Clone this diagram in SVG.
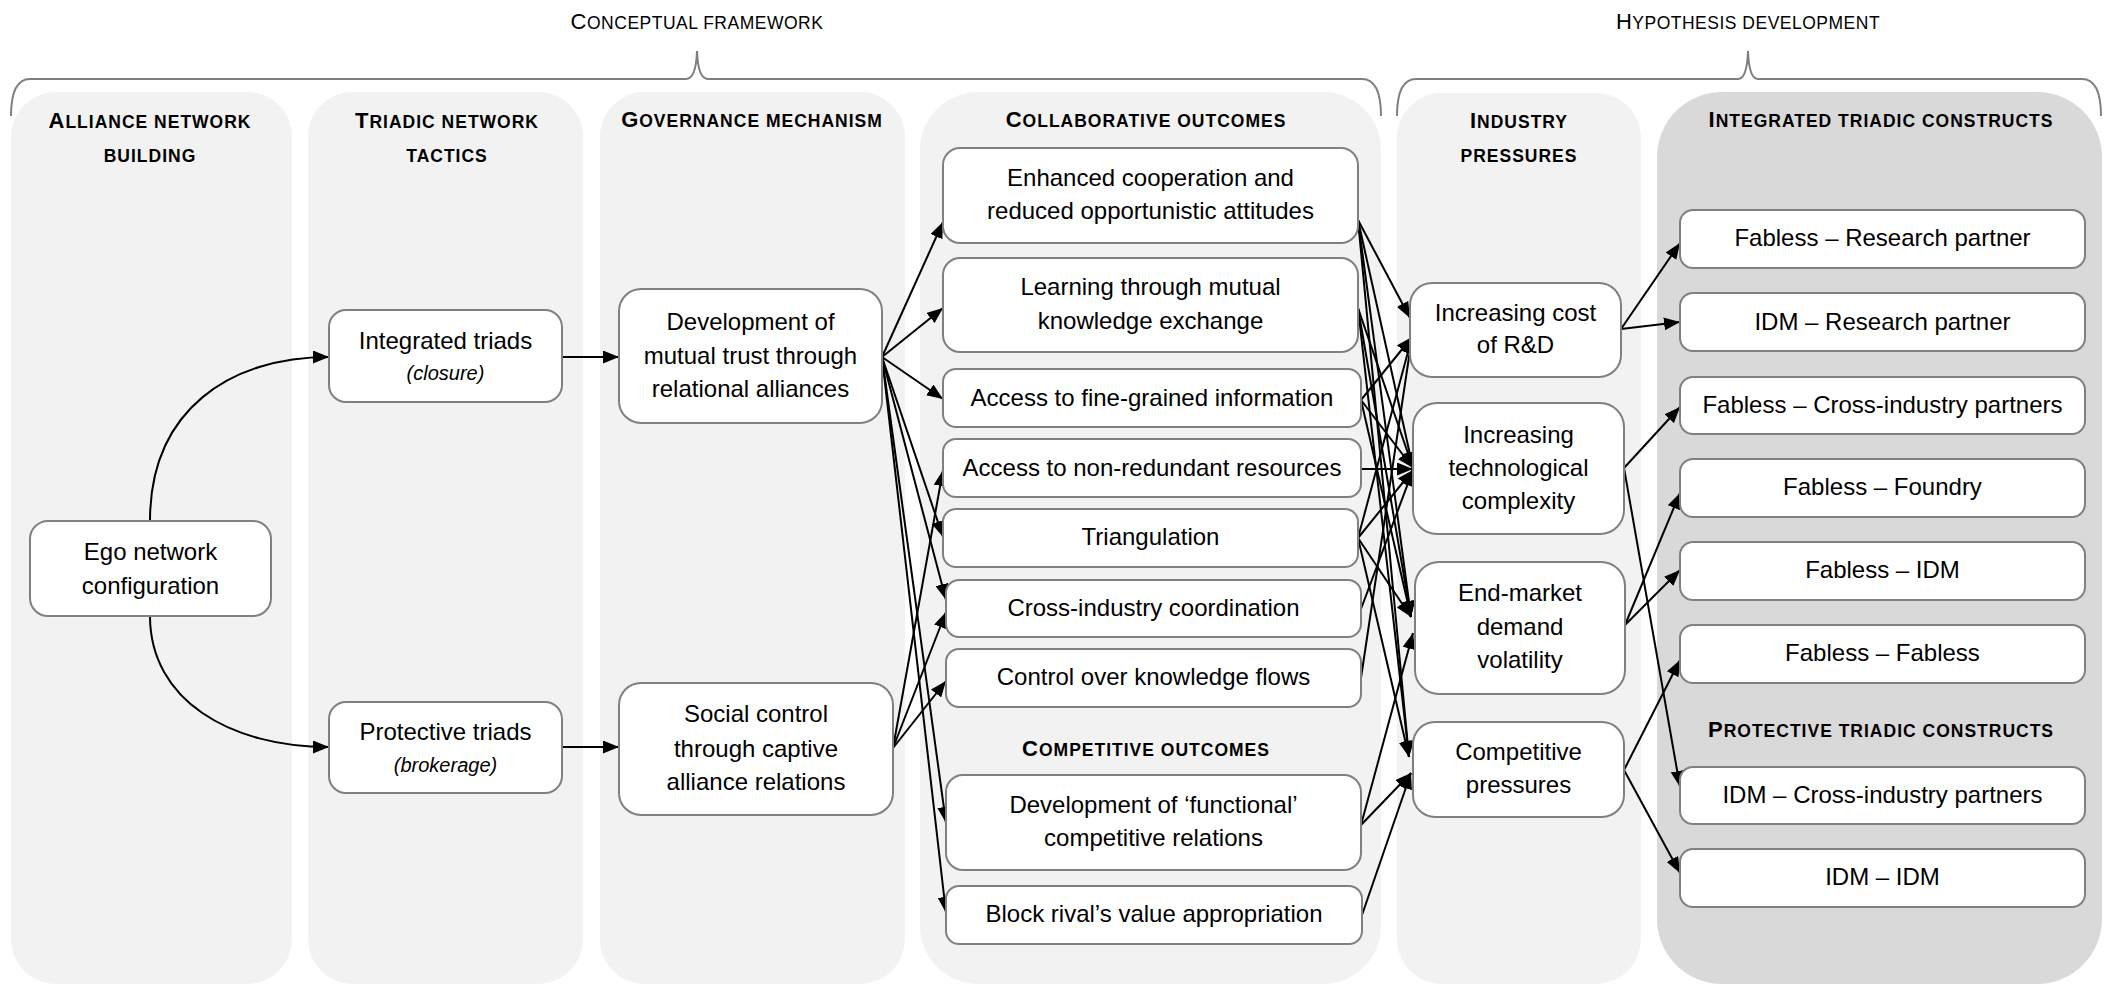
<svg xmlns="http://www.w3.org/2000/svg" width="2113" height="984" viewBox="0 0 2113 984">
<defs>
<style>
text{font-family:"Liberation Sans",Arial,sans-serif;fill:#000}
.t{font-size:24px;text-anchor:middle}
.i{font-style:italic;font-size:20px}
.hd{font-size:22px;font-weight:bold;text-anchor:middle;letter-spacing:1px}
.tt{font-size:22px;text-anchor:middle;letter-spacing:0.5px}
.sc{font-size:17.5px}
.pan{fill:#f2f2f2}
.pan6{fill:#d9d9d9}
.box{fill:#fff;stroke:#808080;stroke-width:2}
.brace{fill:none;stroke:#7f7f7f;stroke-width:2}
.c{fill:none;stroke:#000;stroke-width:2;marker-end:url(#ah)}
</style>
<marker id="ah" markerUnits="userSpaceOnUse" markerWidth="16" markerHeight="13" refX="16" refY="6.5" orient="auto" viewBox="0 0 16 13"><path d="M0,0 L16,6.5 L0,13 z" fill="#000"/></marker>
</defs>
<g id="titles">
<text class="tt" x="697" y="29">C<tspan class="sc">ONCEPTUAL FRAMEWORK</tspan></text>
<text class="tt" x="1748" y="29">H<tspan class="sc">YPOTHESIS DEVELOPMENT</tspan></text>
<path class="brace" d="M11,116 Q11,79 30,79 L686,79 Q696,79 697,51 Q698,79 708,79 L1362,79 Q1381,79 1381,116"/>
<path class="brace" d="M1397,116 Q1397,79 1416,79 L1738,79 Q1747,79 1748,51 Q1749,79 1758,79 L2082,79 Q2101,79 2101,116"/>
</g>
<g id="panels">
<rect class="pan" x="11" y="92" width="281" height="892" rx="45"/>
<rect class="pan" x="308" y="92" width="275" height="892" rx="45"/>
<rect class="pan" x="600" y="92" width="305" height="892" rx="45"/>
<rect class="pan" x="920" y="92" width="461" height="892" rx="58"/>
<rect class="pan" x="1397" y="93" width="244" height="891" rx="45"/>
<rect class="pan6" x="1657" y="92" width="445" height="892" rx="65"/>
<text class="hd" x="150" y="128">A<tspan class="sc">LLIANCE NETWORK</tspan></text>
<text class="hd" x="150" y="162"><tspan class="sc">BUILDING</tspan></text>
<text class="hd" x="447" y="128">T<tspan class="sc">RIADIC NETWORK</tspan></text>
<text class="hd" x="447" y="162"><tspan class="sc">TACTICS</tspan></text>
<text class="hd" x="752" y="127">G<tspan class="sc">OVERNANCE MECHANISM</tspan></text>
<text class="hd" x="1146" y="127">C<tspan class="sc">OLLABORATIVE OUTCOMES</tspan></text>
<text class="hd" x="1146" y="756">C<tspan class="sc">OMPETITIVE OUTCOMES</tspan></text>
<text class="hd" x="1519" y="128">I<tspan class="sc">NDUSTRY</tspan></text>
<text class="hd" x="1519" y="162"><tspan class="sc">PRESSURES</tspan></text>
<text class="hd" x="1881" y="127">I<tspan class="sc">NTEGRATED TRIADIC CONSTRUCTS</tspan></text>
<text class="hd" x="1881" y="737">P<tspan class="sc">ROTECTIVE TRIADIC CONSTRUCTS</tspan></text>
</g>
<g id="connectors">
<path class="c" d="M150,521 C150,410 230,357 329,357"/>
<path class="c" d="M150,616 C150,700 230,747 329,747"/>
<path class="c" d="M562,357 L619,357"/>
<path class="c" d="M562,747 L619,747"/>
<path class="c" d="M882,357 L943,222"/>
<path class="c" d="M882,357 L943,308"/>
<path class="c" d="M882,357 L943,399"/>
<path class="c" d="M882,357 L943,537"/>
<path class="c" d="M882,357 L946,600"/>
<path class="c" d="M882,357 L946,823"/>
<path class="c" d="M882,357 L946,913"/>
<path class="c" d="M893,748 L943,470"/>
<path class="c" d="M893,748 L946,612"/>
<path class="c" d="M893,748 L946,681"/>
<path class="c" d="M1358,220 L1410,318"/>
<path class="c" d="M1358,220 L1413,468"/>
<path class="c" d="M1358,220 L1411,617"/>
<path class="c" d="M1358,220 L1409,757"/>
<path class="c" d="M1358,308 L1413,468"/>
<path class="c" d="M1358,308 L1411,617"/>
<path class="c" d="M1358,308 L1409,757"/>
<path class="c" d="M1361,400 L1412,337"/>
<path class="c" d="M1361,400 L1413,468"/>
<path class="c" d="M1361,400 L1411,617"/>
<path class="c" d="M1361,469 L1413,469"/>
<path class="c" d="M1358,538 L1412,337"/>
<path class="c" d="M1358,538 L1413,470"/>
<path class="c" d="M1358,538 L1411,617"/>
<path class="c" d="M1358,538 L1409,757"/>
<path class="c" d="M1361,609 L1413,470"/>
<path class="c" d="M1361,678 L1412,337"/>
<path class="c" d="M1361,825 L1413,633"/>
<path class="c" d="M1361,825 L1411,773"/>
<path class="c" d="M1362,915 L1411,773"/>
<path class="c" d="M1621,329 L1680,243"/>
<path class="c" d="M1621,329 L1680,322"/>
<path class="c" d="M1624,468 L1680,407"/>
<path class="c" d="M1624,468 L1680,787"/>
<path class="c" d="M1625,625 L1680,493"/>
<path class="c" d="M1625,625 L1680,570"/>
<path class="c" d="M1624,770 L1680,660"/>
<path class="c" d="M1624,770 L1680,873"/>
</g>
<g id="ego"><rect class="box" x="30" y="521" width="241" height="95" rx="18"/><text class="t" x="150.5" y="560">Ego network</text><text class="t" x="150.5" y="594">configuration</text></g>
<g id="integrated-triads"><rect class="box" x="329" y="310" width="233" height="92" rx="17"/><text class="t" x="445.5" y="349">Integrated triads</text><text class="t i" x="445.5" y="380">(closure)</text></g>
<g id="protective-triads"><rect class="box" x="329" y="702" width="233" height="91" rx="17"/><text class="t" x="445.5" y="740">Protective triads</text><text class="t i" x="445.5" y="772">(brokerage)</text></g>
<g id="mutual-trust"><rect class="box" x="619" y="289" width="263" height="134" rx="22"/><text class="t" x="750.5" y="330">Development of</text><text class="t" x="750.5" y="364">mutual trust through</text><text class="t" x="750.5" y="397">relational alliances</text></g>
<g id="social-control"><rect class="box" x="619" y="683" width="274" height="132" rx="22"/><text class="t" x="756" y="722">Social control</text><text class="t" x="756" y="757">through captive</text><text class="t" x="756" y="790">alliance relations</text></g>
<g id="enhanced-cooperation"><rect class="box" x="943" y="148" width="415" height="95" rx="17"/><text class="t" x="1150.5" y="186">Enhanced cooperation and</text><text class="t" x="1150.5" y="219">reduced opportunistic attitudes</text></g>
<g id="learning"><rect class="box" x="943" y="258" width="415" height="94" rx="17"/><text class="t" x="1150.5" y="295">Learning through mutual</text><text class="t" x="1150.5" y="329">knowledge exchange</text></g>
<g id="fine-grained"><rect class="box" x="943" y="369" width="418" height="58" rx="13"/><text class="t" x="1152" y="406">Access to fine-grained information</text></g>
<g id="non-redundant"><rect class="box" x="943" y="439" width="418" height="58" rx="13"/><text class="t" x="1152" y="476">Access to non-redundant resources</text></g>
<g id="triangulation"><rect class="box" x="943" y="509" width="415" height="58" rx="13"/><text class="t" x="1150.5" y="545">Triangulation</text></g>
<g id="cross-industry"><rect class="box" x="946" y="580" width="415" height="57" rx="13"/><text class="t" x="1153.5" y="616">Cross-industry coordination</text></g>
<g id="control"><rect class="box" x="946" y="649" width="415" height="58" rx="13"/><text class="t" x="1153.5" y="685">Control over knowledge flows</text></g>
<g id="functional"><rect class="box" x="946" y="775" width="415" height="95" rx="17"/><text class="t" x="1153.5" y="813">Development of ‘functional’</text><text class="t" x="1153.5" y="846">competitive relations</text></g>
<g id="block-rival"><rect class="box" x="946" y="886" width="416" height="58" rx="13"/><text class="t" x="1154" y="922">Block rival’s value appropriation</text></g>
<g id="cost-rd"><rect class="box" x="1410" y="283" width="211" height="94" rx="22"/><text class="t" x="1515.5" y="321">Increasing cost</text><text class="t" x="1515.5" y="353">of R&amp;D</text></g>
<g id="tech-complexity"><rect class="box" x="1413" y="403" width="211" height="131" rx="24"/><text class="t" x="1518.5" y="443">Increasing</text><text class="t" x="1518.5" y="476">technological</text><text class="t" x="1518.5" y="509">complexity</text></g>
<g id="demand-volatility"><rect class="box" x="1415" y="562" width="210" height="132" rx="24"/><text class="t" x="1520" y="601">End-market</text><text class="t" x="1520" y="635">demand</text><text class="t" x="1520" y="668">volatility</text></g>
<g id="competitive-pressures"><rect class="box" x="1413" y="722" width="211" height="95" rx="22"/><text class="t" x="1518.5" y="760">Competitive</text><text class="t" x="1518.5" y="793">pressures</text></g>
<g id="fab-research"><rect class="box" x="1680" y="210" width="405" height="58" rx="13"/><text class="t" x="1882.5" y="246">Fabless – Research partner</text></g>
<g id="idm-research"><rect class="box" x="1680" y="293" width="405" height="58" rx="13"/><text class="t" x="1882.5" y="330">IDM – Research partner</text></g>
<g id="fab-cross"><rect class="box" x="1680" y="377" width="405" height="57" rx="13"/><text class="t" x="1882.5" y="413">Fabless – Cross-industry partners</text></g>
<g id="fab-foundry"><rect class="box" x="1680" y="459" width="405" height="58" rx="13"/><text class="t" x="1882.5" y="495">Fabless – Foundry</text></g>
<g id="fab-idm"><rect class="box" x="1680" y="542" width="405" height="58" rx="13"/><text class="t" x="1882.5" y="578">Fabless – IDM</text></g>
<g id="fab-fab"><rect class="box" x="1680" y="625" width="405" height="58" rx="13"/><text class="t" x="1882.5" y="661">Fabless – Fabless</text></g>
<g id="idm-cross"><rect class="box" x="1680" y="767" width="405" height="57" rx="13"/><text class="t" x="1882.5" y="803">IDM – Cross-industry partners</text></g>
<g id="idm-idm"><rect class="box" x="1680" y="849" width="405" height="58" rx="13"/><text class="t" x="1882.5" y="885">IDM – IDM</text></g>
</svg>
